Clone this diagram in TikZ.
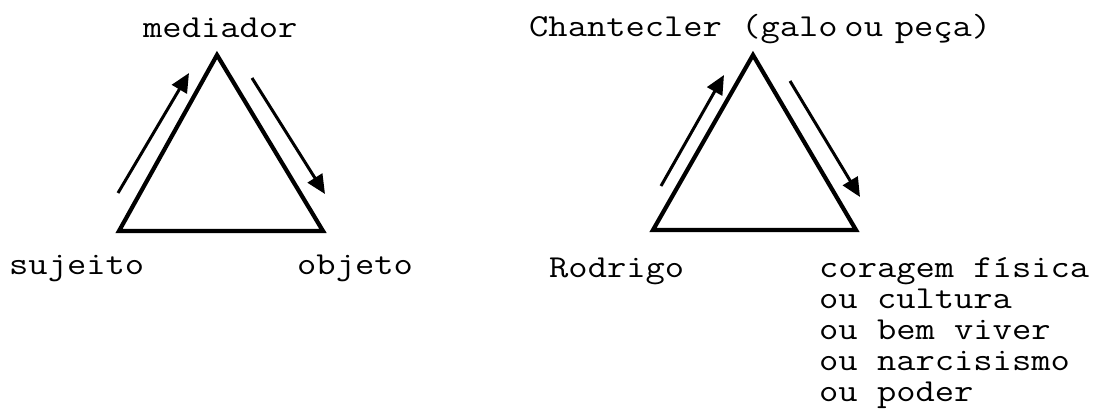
\documentclass[tikz,border=0pt]{standalone}
\usepackage{fontspec}
\setmonofont{Latin Modern Mono}[FakeStretch=1.17]
\usetikzlibrary{arrows.meta}
\tikzset{
  lbl/.style={anchor=base west, inner sep=0pt, font=\ttfamily\fontsize{32pt}{31pt}\selectfont},
  tri/.style={line width=4.2pt, line join=miter},
  flow/.style={line width=3pt, -{Triangle[length=19pt,width=17pt]}}
}
\begin{document}
\begin{tikzpicture}[x=1pt,y=-1pt]
\useasboundingbox (0,0) rectangle (1093,409);
% left triangle
\coordinate (lA) at (217,55);
\coordinate (lB) at (119,231);
\coordinate (lC) at (323,231);
\draw[tri] (lA) -- (lB) -- (lC) -- cycle;
\coordinate (lu1) at (118,193);
\coordinate (lu2) at (189,73);
\coordinate (ld1) at (252,78);
\coordinate (ld2) at (325,194);
\draw[flow] (lu1) -- (lu2);
\draw[flow] (ld1) -- (ld2);
\node[lbl] (med) at (143,38) {mediador};
\node[lbl] (suj) at (9,274) {sujeito};
\node[lbl] (obj) at (297,274) {objeto};
% right triangle
\coordinate (rA) at (753,55);
\coordinate (rB) at (653,230);
\coordinate (rC) at (856,230);
\draw[tri] (rA) -- (rB) -- (rC) -- cycle;
\coordinate (ru1) at (661,186);
\coordinate (ru2) at (724,75);
\coordinate (rd1) at (790,81);
\coordinate (rd2) at (860,197);
\draw[flow] (ru1) -- (ru2);
\draw[flow] (rd1) -- (rd2);
\node[lbl] (chan) at (529,37) {Chantecler (galo\hspace{-12.5pt} ou\hspace{-7.5pt} peça)};
\node[lbl] (rod) at (549,277) {Rodrigo};
\node[lbl] (v1) at (819,277) {coragem física};
\node[lbl] (v2) at (819,308) {ou cultura};
\node[lbl] (v3) at (819,339) {ou bem viver};
\node[lbl] (v4) at (819,370) {ou narcisismo};
\node[lbl] (v5) at (819,401) {ou poder};
\end{tikzpicture}
\end{document}
